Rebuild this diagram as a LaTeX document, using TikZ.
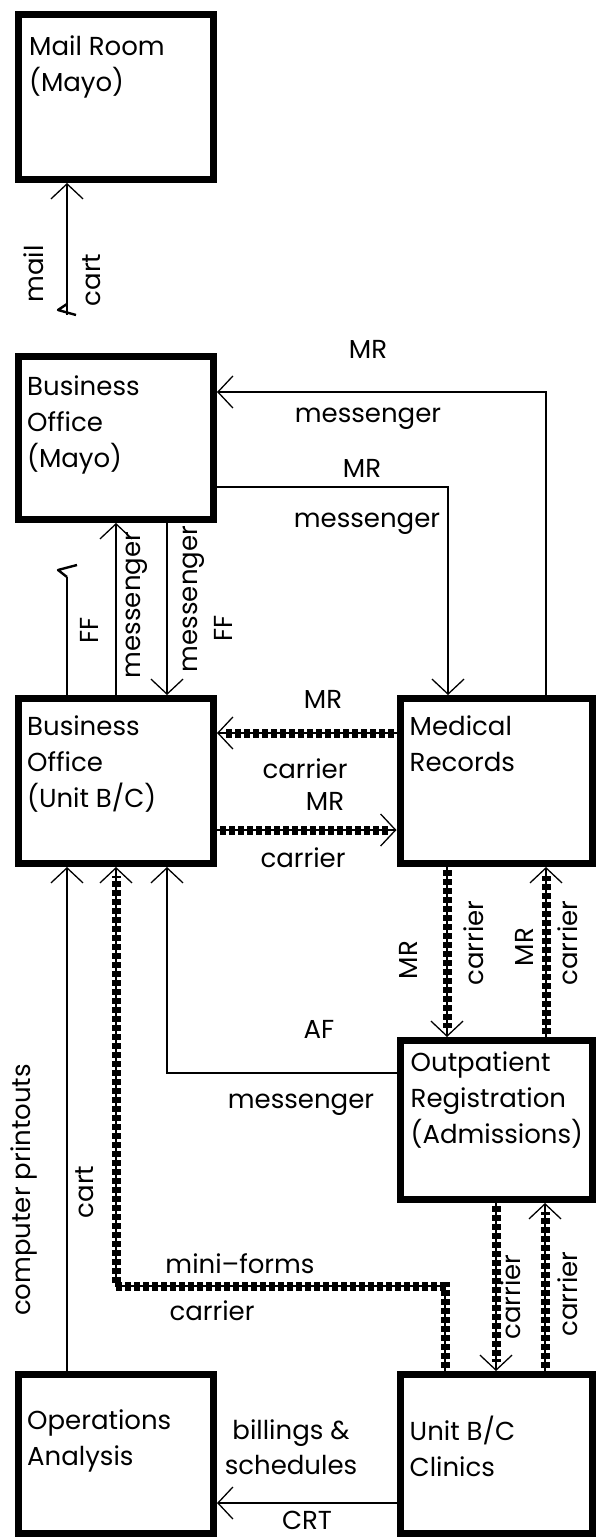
\documentclass[tikz,border=0pt]{standalone}
\usepackage{fontspec}
\setmainfont{Poppins}
\usetikzlibrary{arrows.meta,positioning}

\tikzset{
  unit/.style={draw, line width=7pt, minimum width=195pt, inner sep=0pt},
  unittext/.style={align=left, inner sep=0pt, font=\fontsize{26}{36}\selectfont},
  plain/.style={line width=1.3pt},
  flow/.style={plain, ->},
  beads/.style={postaction={draw, -, line width=9pt, dash pattern=on 6pt off 3pt,
      shorten >=9pt, shorten <=3pt}},
  brk/.style={line width=2.4pt, line join=round},
  lab/.style={font=\fontsize{26}{30}\selectfont, inner sep=0pt, anchor=base},
  vlab/.style={lab, rotate=90},
}

\begin{document}
\begin{tikzpicture}[x=1pt, y=-1pt, >={Straight Barb[length=15pt,width=32pt]}]
    \useasboundingbox (0,0) rectangle (595,1538);
    % Units
    \node[unit, minimum height=165pt] (mail) at (116,97) {};
    \node[unit, minimum height=163pt] (bomayo) at (116,438) {};
    \node[unit, minimum height=165pt] (bounit) at (116,781) {};
    \node[unit, minimum height=159pt] (opsan) at (116,1454) {};
    \node[unit, minimum width=192pt, minimum height=165pt] (medrec) at (496,781) {};
    \node[unit, minimum width=192pt, minimum height=159pt] (outreg) at (496,1120) {};
    \node[unit, minimum width=192pt, minimum height=159pt] (clinics) at (496,1454) {};
    \node[unittext, below right=25pt and 14pt of mail.north west] (mailtx) {Mail Room\\(Mayo)};
    \node[unittext, below right=23pt and 12pt of bomayo.north west] (bomayotx) {Business\\Office\\(Mayo)};
    \node[unittext, below right=21pt and 12pt of bounit.north west] (bounittx) {Business\\Office\\(Unit B/C)};
    \node[unittext, below right=21pt and 13pt of medrec.north west] (medrectx) {Medical\\Records};
    \node[unittext, below right=15pt and 14pt of outreg.north west] (outregtx) {Outpatient\\Registration\\(Admissions)};
    \node[unittext, below right=45pt and 13pt of clinics.north west] (clinicstx) {Unit B/C\\Clinics};
    \node[unittext, below right=38pt and 12pt of opsan.north west] (opsantx) {Operations\\Analysis};

    % Mail room
    \coordinate (mailend) at (67,315);
    \draw[flow] (mailend) -- ([xshift=-49pt]mail.south);
    \draw[brk] (mailend) ++(0,-11) -- ++(-9,6) -- ++(18,5);
    \node[vlab] (lmail) at (43,274) {mail};
    \node[vlab] (lcart) at (100,280) {cart};

    % Business Office (Mayo) and Medical Records
    \draw[flow] ([xshift=50pt]medrec.north) |- ([yshift=46pt]bomayo.east);
    \draw[flow] ([yshift=-49pt]bomayo.east) -| ([xshift=-48pt]medrec.north);
    \node[lab] (lmr1) at (368,358) {MR};
    \node[lab] (lmsg1) at (368,422) {messenger};
    \node[lab] (lmr2) at (362,477) {MR};
    \node[lab] (lmsg2) at (367,527) {messenger};

    % Business Office (Mayo) and (Unit B/C)
    \coordinate (ffend) at (67,577);
    \draw[plain] ([xshift=-49pt]bounit.north) -- (ffend);
    \draw[brk] (ffend) -- ++(-9,-7) -- ++(19,-5);
    \draw[flow] (bounit.north) -- (bomayo.south);
    \draw[flow] ([xshift=51pt]bomayo.south) -- ([xshift=51pt]bounit.north);
    \node[vlab] (lff1) at (98,630) {FF};
    \node[vlab] (lmsg3) at (140,605) {messenger};
    \node[vlab] (lmsg4) at (197,599) {messenger};
    \node[vlab] (lff2) at (232,628) {FF};

    % carriers between Business Office (Unit B/C) and Medical Records
    \draw[flow, beads] ([yshift=48pt]medrec.west) -- ([yshift=48pt]bounit.east);
    \draw[flow, beads] ([yshift=-49pt]bounit.east) -- ([yshift=-49pt]medrec.west);
    \node[lab] (lmr3) at (323,708) {MR};
    \node[lab] (lcar1) at (305,778) {carrier};
    \node[lab] (lmr4) at (325,810) {MR};
    \node[lab] (lcar2) at (303,867) {carrier};

    % into Business Office (Unit B/C) from below
    \draw[flow] ([xshift=-49pt]opsan.north) -- ([xshift=-49pt]bounit.south);
    \coordinate (cartbend) at (116,1286);
    \draw[flow, beads] ([xshift=-51pt]clinics.north) |- (cartbend) -- (bounit.south);
    \draw[flow] ([yshift=47pt]outreg.west) -| ([xshift=51pt]bounit.south);
    \node[vlab] (lprint) at (30,1190) {computer printouts};
    \node[vlab] (lcart2) at (93,1192) {cart};
    \node[lab] (laf) at (319,1038) {AF};
    \node[lab] (lmsg5) at (301,1108) {messenger};
    \node[lab] (lmini) at (240,1273) {mini--forms};
    \node[lab] (lcar3) at (212,1320) {carrier};

    % Medical Records and Outpatient Registration
    \draw[flow, beads] ([xshift=-49pt]medrec.south) -- ([xshift=-49pt]outreg.north);
    \draw[flow, beads] ([xshift=50pt]outreg.north) -- ([xshift=50pt]medrec.south);
    \node[vlab] (lmr5) at (417,960) {MR};
    \node[vlab] (lcar4) at (483,943) {carrier};
    \node[vlab] (lmr6) at (533,947) {MR};
    \node[vlab] (lcar5) at (577,943) {carrier};

    % Outpatient Registration and Clinics
    \draw[flow, beads] (outreg.south) -- (clinics.north);
    \draw[flow, beads] ([xshift=49pt]clinics.north) -- ([xshift=49pt]outreg.south);
    \node[vlab] (lcar6) at (520,1297) {carrier};
    \node[vlab] (lcar7) at (577,1294) {carrier};

    % Clinics to Operations Analysis
    \draw[flow] ([yshift=-49pt]clinics.west) -- ([yshift=-49pt]opsan.east);
    \node[lab] (lbill) at (291,1439) {billings \&};
    \node[lab] (lsched) at (291,1474) {schedules};
    \node[lab] (lcrt) at (307,1529) {CRT};
\end{tikzpicture}
\end{document}
